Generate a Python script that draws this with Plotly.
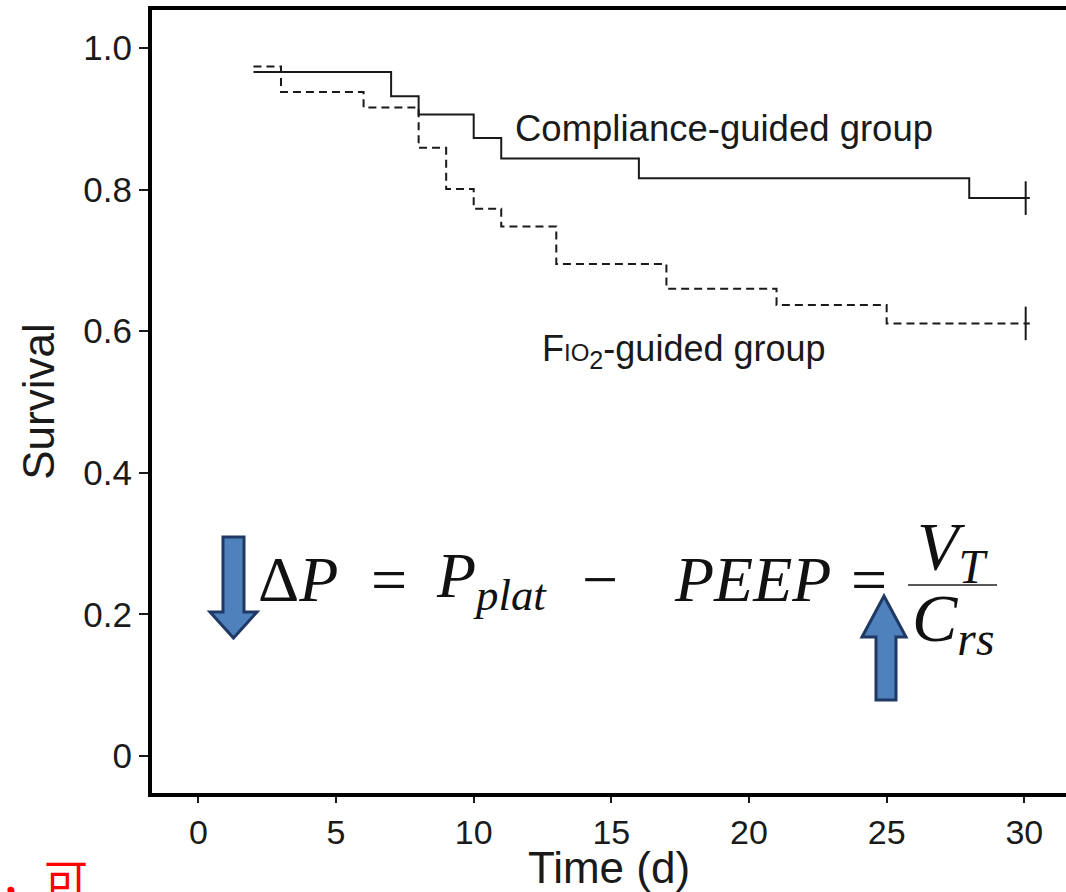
import plotly.graph_objects as go

# ---- data ----
comp_time = [2, 7, 8, 10, 11, 16, 28, 30.2]
comp_surv = [0.966, 0.932, 0.906, 0.873, 0.844, 0.816, 0.788, 0.788]
fio_time = [2, 3, 6, 8, 9, 10, 11, 13, 17, 21, 25, 30.2]
fio_surv = [0.974, 0.938, 0.916, 0.859, 0.801, 0.773, 0.748, 0.695, 0.660, 0.637, 0.611, 0.611]
censor_time = [30.05]
comp_censor = [0.788]
fio_censor = [0.611]
x_ticks = [0, 5, 10, 15, 20, 25, 30]
y_ticks = [0, 0.2, 0.4, 0.6, 0.8, 1.0]
y_ticktext = ["0", "0.2", "0.4", "0.6", "0.8", "1.0"]

W, H = 1066, 892
L, R, T, B = 152, 1066, 10, 793


def px(x):
    return (x - L) / (R - L)


def py(y):
    return (B - y) / (B - T)


INK = "#1a1a1a"
fig = go.Figure()
fig.add_trace(go.Scatter(x=comp_time, y=comp_surv, mode="lines", line_shape="hv",
                         line=dict(color=INK, width=2), showlegend=False))
fig.add_trace(go.Scatter(x=fio_time, y=fio_surv, mode="lines", line_shape="hv",
                         line=dict(color=INK, width=2, dash="8px,5px"), showlegend=False))
fig.add_trace(go.Scatter(x=censor_time * 2, y=comp_censor + fio_censor, mode="markers",
                         marker=dict(symbol="line-ns", size=24, line=dict(color=INK, width=2)),
                         showlegend=False))

sans = "Liberation Sans, Arial, sans-serif"
serif = "Liberation Serif, Times New Roman, serif"
FS = 64
MATH = "#111111"


def math(text, x, anchor="left", y=580, size=FS):
    return dict(x=px(x), y=py(y), xref="paper", yref="paper", text=text,
                xanchor=anchor, yanchor="middle", showarrow=False,
                font=dict(family=serif, size=size, color=MATH))


annotations = [
    dict(x=11.43, y=0.886, xref="x", yref="y", text="Compliance-guided group",
         xanchor="left", yanchor="middle", showarrow=False,
         font=dict(family=sans, size=36.5, color=INK)),
    dict(x=12.40, y=0.572, xref="x", yref="y",
         text="F<span style='font-size:24px'>IO</span><sub>2</sub>-guided group",
         xanchor="left", yanchor="middle", showarrow=False,
         font=dict(family=sans, size=36, color=INK)),
    math("Δ<i>P</i>", 256),
    math("=", 389, "center"),
    math("<i>P</i><sub><i>plat</i></sub>", 434),
    math("−", 600, "center"),
    math("<i>PEEP</i>", 672),
    math("=", 869, "center"),
    math("<i>V</i><sub><i>T</i></sub>", 953, "center", 550, 68),
    math("<i>C</i><sub><i>rs</i></sub>", 953, "center", 622, 68),
    dict(x=px(-2), y=py(878), xref="paper", yref="paper", text="，可",
         xanchor="left", yanchor="middle", showarrow=False,
         font=dict(family="Noto Sans CJK SC", size=44, color="#ff0000")),
]

ARROW_FILL = "#4f81bd"
ARROW_LINE = "#1f3864"


def path(points):
    return "M " + " L ".join(f"{px(x):.5f},{py(y):.5f}" for x, y in points) + " Z"


down_arrow = [(223, 537), (244, 537), (244, 612), (257, 612), (233.5, 638), (210, 612), (223, 612)]
up_arrow = [(876, 700), (896, 700), (896, 637), (906, 637), (884, 596), (862, 637), (876, 637)]

shapes = [
    dict(type="path", xref="paper", yref="paper", path=path(down_arrow),
         fillcolor=ARROW_FILL, line=dict(color=ARROW_LINE, width=3)),
    dict(type="path", xref="paper", yref="paper", path=path(up_arrow),
         fillcolor=ARROW_FILL, line=dict(color=ARROW_LINE, width=3)),
    dict(type="line", xref="paper", yref="paper", x0=px(908), x1=px(997), y0=py(585), y1=py(585),
         line=dict(color="#222222", width=1.5)),
]

fig.update_layout(
    width=W, height=H,
    margin=dict(l=L, r=W - R, t=T, b=H - B, pad=0),
    paper_bgcolor="white", plot_bgcolor="white",
    annotations=annotations, shapes=shapes,
    showlegend=False,
)
fig.update_xaxes(range=[-(198.4 - L) / 27.53, (R - 198.4) / 27.53],
                 tickvals=x_ticks, ticks="outside", ticklen=6, tickwidth=2, tickcolor=INK,
                 showline=True, linewidth=4, linecolor="black", mirror=True,
                 showgrid=False, zeroline=False,
                 tickfont=dict(family=sans, size=34, color=INK),
                 title=dict(text="Time (d)", font=dict(family=sans, size=44, color=INK), standoff=8))
fig.update_yaxes(range=[-(B - 756) / 708, 1 + (48 - T) / 708],
                 tickvals=y_ticks, ticktext=y_ticktext, ticks="outside", ticklen=9, tickwidth=2,
                 tickcolor=INK, showline=True, linewidth=4, linecolor="black", mirror=False,
                 showgrid=False, zeroline=False,
                 tickfont=dict(family=sans, size=35, color=INK),
                 title=dict(text="Survival", font=dict(family=sans, size=44, color=INK), standoff=16))

fig.write_html("out.html")
